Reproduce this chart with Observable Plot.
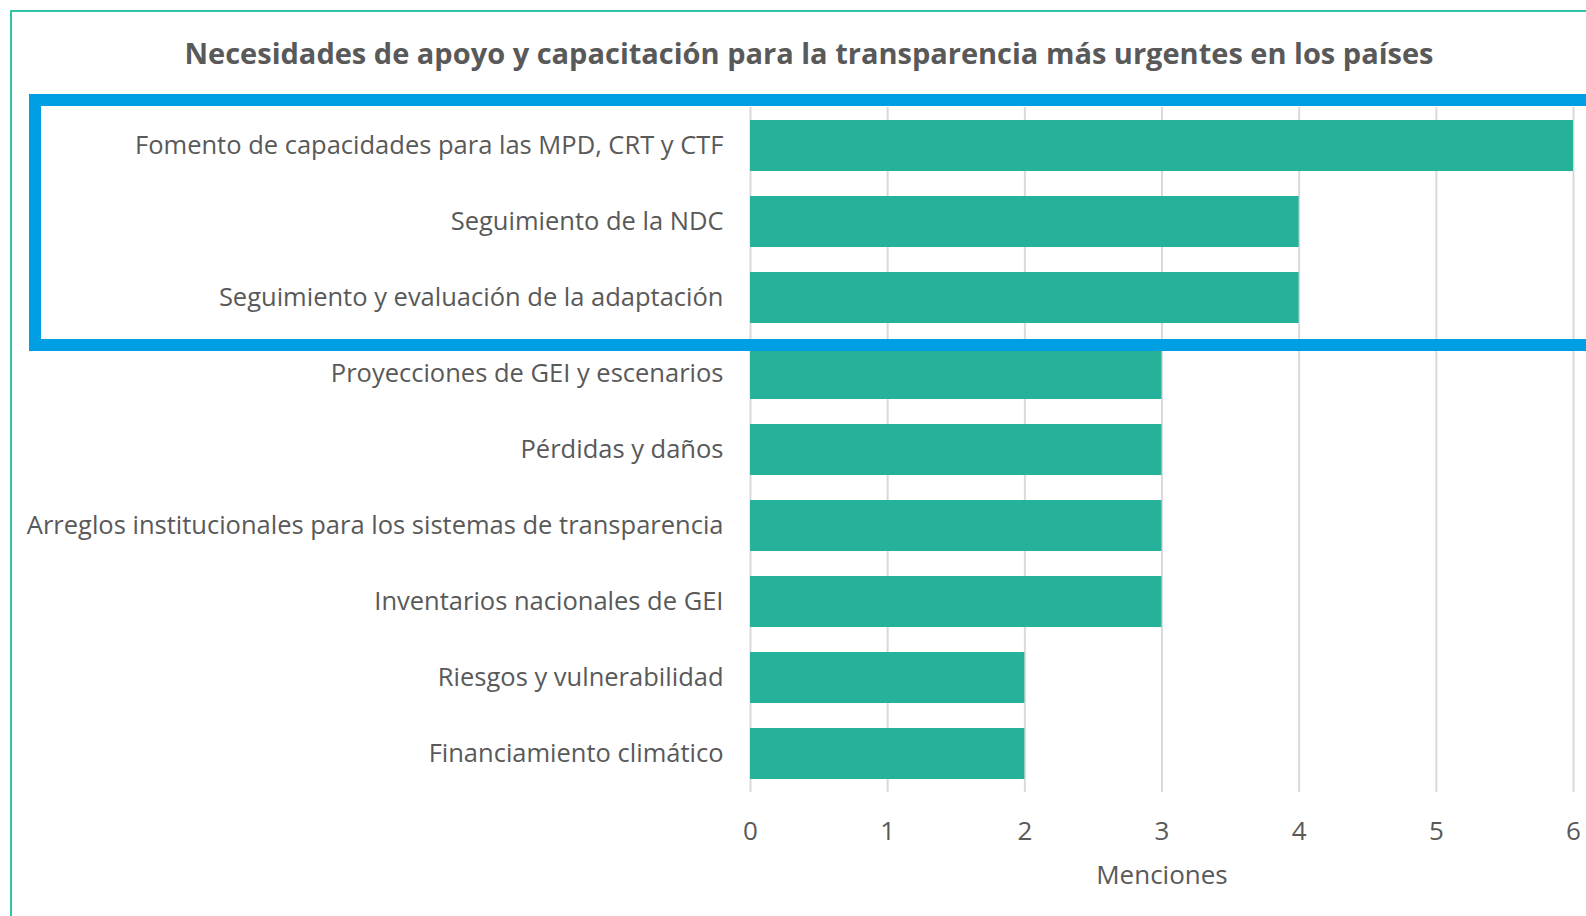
<!DOCTYPE html>
<html>
<head>
<meta charset="utf-8">
<script src="https://cdn.jsdelivr.net/npm/d3@7"></script>
<script src="https://cdn.jsdelivr.net/npm/@observablehq/plot@0.6"></script>
<style>
  html, body { margin: 0; padding: 0; background: #fff; overflow: hidden; }
  #wrap { position: relative; width: 1586px; height: 916px; overflow: hidden; font-family: "Open Sans", sans-serif; }
  #outer { position: absolute; left: 10px; top: 10px; width: 1700px; height: 1000px; border: 2px solid #33c3a6; box-sizing: border-box; pointer-events: none; }
  #title { position: absolute; left: 0; top: 0; width: 1618px; height: 95px; line-height: 106px; text-align: center; font-weight: 700; font-size: 29px; color: #595959; }
  #chart { position: absolute; left: 0; top: 95px; }
  #highlight { position: absolute; left: 29px; top: 94px; width: 1700px; height: 257px; border: 12px solid #009fe3; box-sizing: border-box; pointer-events: none; }
</style>
</head>
<body>
<div id="wrap">
  <div id="outer"></div>
  <div id="title">Necesidades de apoyo y capacitación para la transparencia más urgentes en los países</div>
  <div id="chart"></div>
  <div id="highlight"></div>
</div>
<script>
const categories = [
  "Fomento de capacidades para las MPD, CRT y CTF",
  "Seguimiento de la NDC",
  "Seguimiento y evaluación de la adaptación",
  "Proyecciones de GEI y escenarios",
  "Pérdidas y daños",
  "Arreglos institucionales para los sistemas de transparencia",
  "Inventarios nacionales de GEI",
  "Riesgos y vulnerabilidad",
  "Financiamiento climático"
];
const values = [6, 4, 4, 3, 3, 3, 3, 2, 2];
const xTicks = [0, 1, 2, 3, 4, 5, 6];
const xLabel = "Menciones";

const data = categories.map((c, i) => ({category: c, value: values[i]}));

const chart = Plot.plot({
  width: 1586,
  height: 821,
  marginLeft: 750,
  marginRight: 13,
  marginTop: 12,
  marginBottom: 124,
  style: {fontFamily: "'Open Sans', sans-serif", color: "#595959", background: "transparent"},
  x: {domain: [0, 6], ticks: xTicks},
  y: {domain: categories, paddingInner: 0.335, paddingOuter: 0.1675},
  marks: [
    Plot.gridX(xTicks, {stroke: "#d9d9d9", strokeOpacity: 1, strokeWidth: 2}),
    Plot.barX(data, {x: "value", y: "category", fill: "#26b19a"}),
    Plot.axisY({tickSize: 0, tickPadding: 27, fontSize: 25.5, fill: "#595959", label: null}),
    Plot.axisX(xTicks, {tickSize: 0, tickPadding: 29, fontSize: 26, fill: "#595959", label: null, tickFormat: d3.format("d")}),
    Plot.text([xLabel], {frameAnchor: "bottom", dy: 83, fontSize: 26, fill: "#595959", lineAnchor: "middle"})
  ]
});
document.getElementById("chart").appendChild(chart);
</script>
</body>
</html>
